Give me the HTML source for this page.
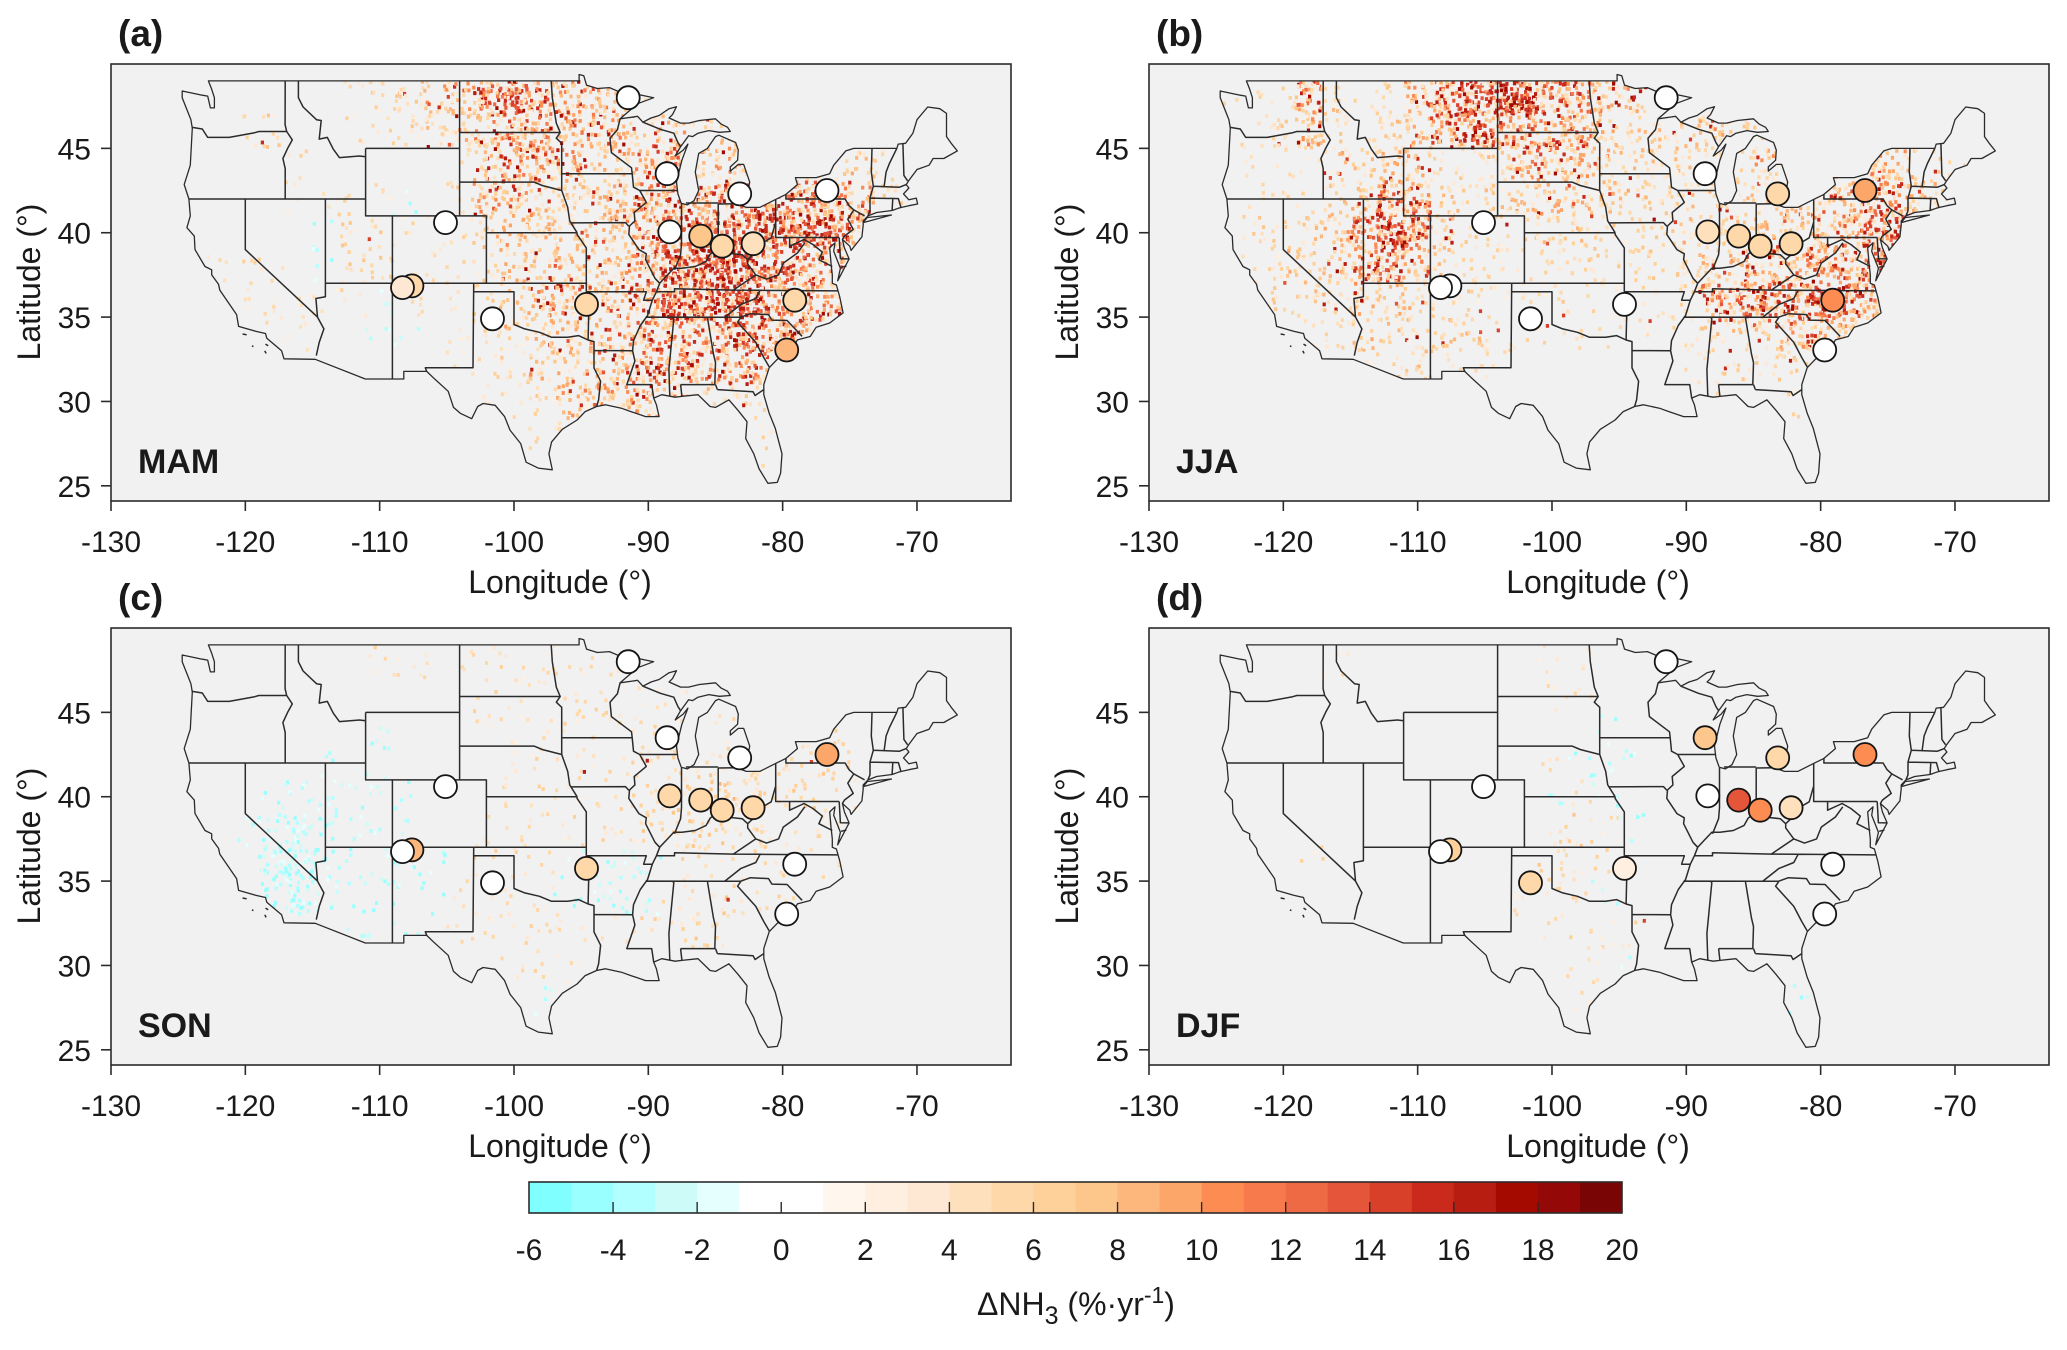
<!DOCTYPE html>
<html lang="en">
<head>
<meta charset="utf-8">
<title>Seasonal NH3 trends</title>
<style>
html,body{margin:0;padding:0;background:#fff;width:2067px;height:1350px;overflow:hidden}
svg{display:block;font-family:"Liberation Sans",Arial,sans-serif}
</style>
</head>
<body>
<svg id="figure" xmlns="http://www.w3.org/2000/svg" width="2067" height="1350" viewBox="0 0 2067 1350"></svg>
<script>
// ---- station data ----
const stationLons = [-91.5,-88.6,-83.2,-76.7,-105.1,-88.4,-86.1,-84.5,-82.2,-107.6,-108.3,-101.6,-94.6,-79.1,-79.7];
const stationLats = [48.0,43.5,42.3,42.5,40.6,40.05,39.8,39.2,39.35,36.85,36.75,34.9,35.75,36.0,33.05];
const mamStations = [0,0,0,0,0,0,7,5,4.5,5,3,0,5,5.5,8];
const jjaStations = [0,0,5,9.5,0,4,5,5,5,0,0,0,0,10.5,0];
const sonStations = [0,0,0,9.5,0,5,5,5,5,8,0,0,5,0,0];
const djfStations = [0,7,5,10.5,0,0,13,10.5,4.5,6,0,5,2.5,0,0];

// ---- gridded trend intensity per season: rows from 49N downward (2 deg), columns from 125W eastward (2 deg) ----
const mamCells = [
[0,0,0,0,0,0,1,2,3,4,5,7,8,6,5,5,4,1],
[0,0,1,2,0,0,1,1,2,3,4,5,6,6,5,5,5,4,4,3,3,1],
[0,0,0,0,1,0,0,0,0,0,1,4,6,6,5,4,4,5,6,3,5,5,0,1,2,3,1],
[0,0,0,0,1,1,1,1,-1,0,2,5,5,4,4,4,5,6,7,6,6,7,7,7,6,5,2,1],
[0,0,0,0,0,-1,2,2,1,1,1,3,4,4,4,4,5,6,7,8,8,8,8,8,8,5],
[0,1,1,1,0,-1,2,2,1,1,1,2,4,4,4,4,5,6,8,9,9,8,7,6,6,3],
[0,0,1,1,1,1,1,-1,1,1,1,2,3,5,5,5,5,6,9,9,9,8,6,6,6,4],
[0,0,0,1,1,0,0,-1,-1,0,1,2,3,4,4,4,5,6,6,6,7,7,7,6,3],
[0,0,0,0,0,0,0,0,0,0,1,1,2,4,4,4,5,6,6,6,6,6,3],
[0,0,0,0,0,0,0,0,0,0,0,1,1,2,4,5,5,5,5,3,3,2],
[0,0,0,0,0,0,0,0,0,0,0,0,0,1,2,1,0,0,0,0,0,1,1],
[0,0,0,0,0,0,0,0,0,0,0,0,0,0,0,0,0,0,0,0,0,1]
];
const jjaCells = [
[1,1,2,6,3,1,2,5,7,8,9,9,7,6,5,4,1],
[1,1,3,5,2,1,3,4,6,7,7,6,6,6,4,3,3,3,4,2,2],
[0,1,1,1,3,3,4,4,2,2,3,5,5,5,4,3,3,3,4,2,4,3,0,3,5,4,2,1],
[0,1,1,1,3,4,7,6,3,2,3,4,4,4,4,3,3,3,3,3,3,4,4,5,6,6,4,2],
[0,2,2,3,4,6,8,7,4,2,2,2,3,3,2,2,2,3,3,3,4,4,5,6,7,8,2],
[0,1,3,3,4,6,7,5,3,2,2,1,2,2,2,2,2,3,4,5,5,5,6,6,8,7],
[0,0,2,3,3,4,4,3,3,2,1,1,2,1,1,1,1,2,6,7,7,7,8,7,6,3],
[0,0,0,1,2,3,3,3,3,3,2,1,1,1,1,1,1,2,3,3,4,5,6,5,2],
[0,0,0,0,0,1,2,3,2,1,1,0,0,0,0,0,0,1,2,2,2,2,1],
[0,0,0,0,0,0,0,0,0,0,0,0,0,0,0,0,0,0,1,0,0,1],
[0,0,0,0,0,0,0,0,0,0,0,0,0,0,0,0,0,0,0,0,0,0],
[0,0,0,0,0,0,0,0,0,0,0,0,0,0,0,0,0,0,0,0,0,0]
];
const sonCells = [
[0,0,0,0,0,0,0,1,1,1,1,1,1,1,1,1,1],
[0,0,0,0,0,0,0,0,0,0,0,1,1,1,1,1,0,1,1],
[0,0,0,0,0,0,0,-1,0,0,0,1,1,1,1,1,1,1,1,0,1,1,0,1,1],
[0,0,0,0,0,-1,0,-1,0,0,0,0,1,1,1,1,1,2,2,2,2,2,2,2,2],
[0,0,0,-1,-2,-2,-1,-1,-1,0,0,0,1,1,1,1,1,2,3,3,3,3,2,2,1,1],
[0,0,-1,-3,-4,-2,-1,-1,-1,0,0,1,1,1,1,1,1,2,2,3,2,2,1,1,1],
[0,0,0,-4,-5,-3,-1,-1,-1,-1,0,1,1,1,-1,-1,-2,-1,1,1,1,1,1,1,1],
[0,0,0,-2,-4,-2,-1,-1,-1,-1,1,1,1,1,-1,-1,-2,-1,1,1,2,1,1],
[0,0,0,0,0,0,-1,-1,-1,0,1,1,1,1,1,1,1,1,1,2,1],
[0,0,0,0,0,0,0,0,0,0,0,0,1,1,1],
[0,0,0,0,0,0,0,0,0,0,0,0,0,-1,1],
[0,0,0,0,0,0,0,0,0,0,0,0,0,0,0]
];
const djfCells = [
[0,0,0,0,1,0,0,0,0,0,0,0,1,1],
[0,0,0,0,0,0,0,0,0,0,0,0,1,1],
[0,0,0,0,0,0,0,0,0,0,0,0,0,0,-1],
[0,0,0,0,0,0,0,0,0,0,0,0,1,-1,-1,-1],
[0,0,0,0,0,0,0,0,0,0,0,0,-1,1,-1],
[0,0,0,0,0,0,0,0,0,0,0,0,1,2,1,-1],
[0,0,0,1,0,0,0,0,0,0,0,0,2,1,1],
[0,0,0,0,0,0,0,0,0,0,0,1,1,1,-1],
[0,0,0,0,0,0,0,0,0,0,0,0,1,1,1,1],
[0,0,0,0,0,0,0,0,0,0,0,0,0,1,1,-1],
[0,0,0,0,0,0,0,0,0,0,0,0,0,1,1,0,0,0,0,0,0,-1],
[0,0,0,0,0,0,0,0,0,0,0,0,0,0,1]
];

// ---- axes and colour bar ----
const lonTicks = [-130,-120,-110,-100,-90,-80,-70];
const latTicks = [25,30,35,40,45];
const colorTicks = [-6,-4,-2,0,2,4,6,8,10,12,14,16,18,20];
const colorBins = ['#7fffff','#99ffff','#b2ffff','#ccfbf8','#e5ffff','#ffffff','#ffffff','#fff6ee','#ffefe0','#fee8d3','#fee0bd','#fed8a8','#fed19a','#fdc78c','#fdb67b','#fda66a','#fc8c52','#f67a4c','#ee6a45','#e4553a','#d9402a','#c92a1c','#b81d12','#a50a00','#940808','#7a0505'];
const seasonNames = ['MAM','JJA','SON','DJF'];
const panelLetters = ['(a)','(b)','(c)','(d)'];

// ---- geography (lon, lat) ----
const usOutline = [[-124.7,48.4],[-123.2,48.15],[-122.8,48.1],[-122.6,47.4],[-122.3,47.4],[-122.3,48.0],[-122.5,48.5],[-122.75,49.0],[-95.15,49.0],[-95.15,49.38],[-94.8,49.3],[-94.6,48.75],[-93.8,48.55],[-92.9,48.6],[-92.0,48.3],[-91.4,48.05],[-90.8,48.2],[-89.6,48.0],[-90.8,47.65],[-92.1,46.75],[-91.2,46.85],[-90.8,46.9],[-90.4,46.55],[-89.8,46.8],[-89.2,46.95],[-88.45,47.35],[-87.9,47.47],[-88.2,47.0],[-88.45,46.8],[-87.6,46.5],[-87.0,46.5],[-86.2,46.65],[-85.0,46.75],[-84.6,46.45],[-84.1,46.25],[-83.9,46.0],[-84.7,45.95],[-85.5,46.05],[-86.3,45.9],[-86.7,45.7],[-87.0,45.75],[-87.6,45.1],[-88.0,44.55],[-87.4,44.9],[-87.05,45.25],[-87.5,44.3],[-87.9,43.0],[-87.8,42.3],[-87.55,41.75],[-87.1,41.65],[-86.6,41.9],[-86.25,42.5],[-86.5,43.6],[-86.25,44.7],[-85.6,45.0],[-85.0,45.7],[-84.75,45.78],[-83.5,45.35],[-83.3,44.9],[-83.35,44.3],[-83.9,43.9],[-83.9,43.65],[-83.3,44.05],[-82.9,44.05],[-82.45,43.0],[-82.55,42.6],[-83.1,42.25],[-83.45,41.72],[-82.7,41.5],[-81.7,41.5],[-80.5,41.98],[-79.76,42.27],[-78.9,42.85],[-79.05,43.27],[-77.5,43.27],[-76.5,43.5],[-76.2,44.0],[-75.3,44.85],[-74.7,45.0],[-71.5,45.0],[-71.4,45.25],[-70.85,45.3],[-70.3,45.9],[-70.0,46.7],[-69.2,47.45],[-68.3,47.35],[-67.8,47.07],[-67.8,45.7],[-67.45,45.3],[-67.0,44.85],[-68.0,44.4],[-68.8,44.4],[-69.1,44.0],[-70.0,43.75],[-70.6,43.1],[-70.8,42.85],[-70.6,42.65],[-71.0,42.3],[-70.6,41.95],[-70.05,42.05],[-69.95,41.7],[-70.6,41.6],[-71.15,41.5],[-71.4,41.45],[-71.85,41.32],[-73.0,41.2],[-73.65,41.0],[-74.0,40.7],[-74.0,40.45],[-74.1,39.75],[-74.9,38.95],[-75.0,39.2],[-75.55,39.6],[-75.4,39.1],[-75.05,38.45],[-75.9,37.15],[-75.7,37.9],[-76.2,38.9],[-76.1,39.4],[-76.5,39.1],[-76.4,38.2],[-76.3,37.5],[-76.3,37.0],[-76.0,36.9],[-75.75,36.2],[-75.5,35.25],[-76.5,34.65],[-77.5,34.4],[-77.95,33.85],[-78.9,33.65],[-79.3,33.1],[-80.4,32.5],[-81.0,32.0],[-81.4,31.0],[-81.4,30.4],[-81.0,29.3],[-80.55,28.4],[-80.05,26.9],[-80.15,25.75],[-80.4,25.2],[-81.1,25.15],[-81.75,26.0],[-82.15,26.9],[-82.75,27.8],[-82.65,28.8],[-83.3,29.45],[-84.0,30.1],[-85.0,29.65],[-85.4,29.7],[-86.3,30.4],[-87.5,30.3],[-88.0,30.25],[-89.0,30.4],[-89.6,30.2],[-89.4,29.8],[-89.2,29.1],[-90.2,29.1],[-91.3,29.4],[-92.0,29.6],[-93.2,29.8],[-93.85,29.7],[-94.7,29.4],[-95.3,28.9],[-96.4,28.35],[-97.2,27.6],[-97.4,26.9],[-97.15,25.95],[-98.2,26.05],[-99.1,26.4],[-99.5,27.5],[-100.3,28.3],[-100.7,29.1],[-101.4,29.77],[-102.3,29.88],[-102.7,29.7],[-103.15,28.98],[-104.0,29.3],[-104.5,29.65],[-104.9,30.6],[-106.0,31.4],[-106.5,31.78],[-108.2,31.78],[-108.2,31.33],[-111.07,31.33],[-114.8,32.5],[-117.12,32.53],[-117.3,33.0],[-118.4,33.75],[-118.5,34.03],[-119.2,34.15],[-120.5,34.45],[-120.65,35.15],[-121.9,36.6],[-122.0,36.95],[-122.5,37.5],[-122.5,37.8],[-123.0,38.0],[-123.75,39.0],[-123.8,39.8],[-124.35,40.3],[-124.1,41.0],[-124.2,42.0],[-124.55,42.85],[-124.1,44.0],[-123.95,46.2],[-124.05,46.7],[-124.2,47.0],[-124.7,48.0],[-124.7,48.4]];
const longIsland = [[-74.0,40.6],[-71.9,41.05],[-73.7,40.9],[-74.0,40.6]];
const stateBorders = [
[[-124,46.25],[-123.2,46.15],[-122.8,45.65],[-121.2,45.65],[-119.3,45.93],[-119,46],[-116.92,46]],
[[-117.03,49],[-117.04,46.4],[-116.92,46],[-116.5,45.5],[-116.85,45],[-117.2,44.4],[-117.03,43.8],[-117.03,42]],
[[-124.2,42],[-111.05,42]],
[[-120,42],[-120,39],[-114.63,35]],
[[-114.63,35],[-114.75,36.1],[-114.04,36.2],[-114.04,42]],
[[-114.63,35],[-114.15,34.3],[-114.5,33.5],[-114.72,32.72]],
[[-114.04,37],[-94.62,37]],
[[-109.05,41],[-109.05,31.33]],
[[-111.05,42],[-111.05,41],[-102.05,41],[-102.05,37]],
[[-114.04,37],[-114.04,36.2]],
[[-111.05,45],[-104.05,45],[-104.05,41]],
[[-111.05,45],[-111.05,42]],
[[-116.05,49],[-116.05,48],[-115.7,47.45],[-114.7,46.7],[-114.35,46.65],[-114.5,45.55],[-113.9,45.65],[-113.45,44.95],[-113,44.45],[-111.5,44.55],[-111.05,44.5]],
[[-104.05,49],[-104.05,45]],
[[-104.05,45.94],[-96.56,45.94]],
[[-104.05,43],[-98.5,43],[-97.9,42.8],[-96.45,42.5]],
[[-102.05,40],[-95.3,40]],
[[-94.62,36.5],[-94.62,39.1],[-95.3,39.9],[-95.3,40]],
[[-103,37],[-103.05,32],[-106.6,32],[-106.5,31.78]],
[[-103,36.5],[-100,36.5],[-100,34.56],[-99.2,34.3],[-98.1,34.1],[-97.2,33.8],[-96,33.8],[-95.2,33.9],[-94.48,33.64]],
[[-94.62,36.5],[-94.43,35.4],[-94.48,33.64],[-94.04,33.55],[-94.04,31.99],[-93.55,31.2],[-93.7,30.1],[-93.85,29.7]],
[[-94.62,36.5],[-90.15,36.5],[-90.35,36],[-89.7,36]],
[[-94.04,33.02],[-91.17,33]],
[[-92.1,46.75],[-92.3,46.1],[-92.85,45.6],[-92.75,44.75],[-91.25,43.85],[-91.2,43.5],[-91.1,42.7],[-90.64,42.5],[-90.15,41.8],[-91.05,41.2],[-91,40.7],[-91.4,40.4],[-91.45,39.9],[-90.7,39],[-90.15,38.75],[-90.2,38.4],[-89.5,37.3],[-89.15,37],[-89.4,36.5],[-89.7,36],[-90.05,35.1],[-90.6,34.5],[-91.1,33.6],[-91.17,33],[-91,32.4],[-91.6,31],[-89.75,31],[-89.6,30.2]],
[[-90.2,35],[-84.32,34.99],[-83.1,35]],
[[-89.4,36.5],[-88.05,36.5],[-88.05,36.68],[-83.67,36.6],[-81.68,36.59],[-75.9,36.55]],
[[-81.68,36.59],[-82,36.1],[-83.1,35.75],[-84.3,35]],
[[-83.67,36.6],[-82,37.5],[-82.6,38.15],[-82.6,38.4]],
[[-89.15,37],[-88.1,37.9],[-87.5,37.9],[-86.5,38],[-85.7,38.3],[-85.4,38.73],[-84.8,39.1],[-84.2,38.8],[-83,38.7],[-82.6,38.4],[-81.8,39],[-81.7,39.3],[-80.85,39.7],[-80.52,40.64]],
[[-80.52,41.98],[-80.52,39.72],[-75.79,39.72]],
[[-84.8,41.7],[-83.45,41.72]],
[[-84.8,41.7],[-84.8,39.1]],
[[-87.2,41.76],[-84.8,41.76]],
[[-87.53,41.7],[-87.53,39.35],[-87.6,38.7],[-88.05,37.8]],
[[-90.64,42.5],[-87.8,42.5]],
[[-90.4,46.55],[-89.1,46.13],[-88.1,45.9],[-87.8,45.35],[-87.6,45.1]],
[[-96.45,43.5],[-91.2,43.5]],
[[-95.77,40.58],[-91.7,40.6],[-91.45,40.38]],
[[-96.45,42.5],[-96,41.5],[-95.85,40.7],[-95.3,40]],
[[-96.45,42.5],[-96.45,45.3],[-96.85,45.6],[-96.56,45.94],[-96.85,46.5],[-97.15,48],[-97.23,49]],
[[-79.76,42.27],[-79.76,42],[-75.35,42],[-75.05,41.6],[-74.7,41.35],[-73.9,41]],
[[-74.7,41.35],[-75.15,40.8],[-74.75,40.2],[-75.4,39.8],[-75.55,39.6]],
[[-75.79,39.72],[-75.7,38.46],[-75.05,38.45]],
[[-79.48,39.72],[-79.48,39.2],[-78.4,39.6],[-77.75,39.3],[-77.05,38.85],[-77.3,38.4],[-76.3,38]],
[[-82,37.5],[-81.2,37.25],[-80.3,37.5],[-79.95,38.2],[-78.9,38.8],[-78.35,39.4]],
[[-75.65,37.95],[-75.25,38.03]],
[[-73.35,45],[-73.4,43.6],[-73.25,42.75],[-73.5,42.05],[-73.5,41.3],[-73.65,41]],
[[-71.5,45],[-72.05,44.1],[-72.3,43.6],[-72.45,42.73]],
[[-73.25,42.75],[-71.3,42.7],[-70.8,42.85]],
[[-73.5,42.05],[-71.38,42.02],[-71.2,41.5]],
[[-71.8,42.02],[-71.85,41.32]],
[[-71.05,45.3],[-70.97,43.4],[-70.7,43.08]],
[[-88.2,35],[-88.1,34.9],[-88.47,31.9],[-88.4,30.3]],
[[-85.6,34.98],[-85.15,32.8],[-85,32.3],[-85.05,31]],
[[-87.6,31],[-85,31]],
[[-87.6,31],[-87.5,30.3]],
[[-84.86,30.7],[-82.2,30.57],[-82.05,30.35],[-81.4,30.7]],
[[-85,31],[-84.86,30.7]],
[[-83.1,35],[-83.35,34.7],[-82,33.5],[-81.4,32.6],[-81,32.05]],
[[-83.1,35],[-82.4,35.2],[-81.05,35.15],[-80.8,34.82],[-79.67,34.8],[-78.55,33.86]],
[[-120.2,34.0],[-119.9,33.95]],
[[-119.5,33.3],[-119.4,33.25]],
[[-118.5,33.4],[-118.3,33.3]],
[[-118.55,33.0],[-118.45,32.85]]
];

// ---- layout ----
const NS = 'http://www.w3.org/2000/svg';
const svg = document.getElementById('figure');
const panelW = 900, panelH = 437;
const lonMin = -130, lonMax = -63, latMin = 24.1, latMax = 50;
const cellSize = 2, gridWest = -125, gridNorth = 49;
const panelOrigins = [[111,64],[1149,64],[111,628],[1149,628]];
const cellSets = [mamCells,jjaCells,sonCells,djfCells];
const stationSets = [mamStations,jjaStations,sonStations,djfStations];
const inkColor = '#2b2b2b';

function xScale(x0,lon){return x0+(lon-lonMin)/(lonMax-lonMin)*panelW;}
function yScale(y0,lat){return y0+(latMax-lat)/(latMax-latMin)*panelH;}
function colorFor(v){
  const idx=Math.max(0,Math.min(colorBins.length-1,Math.floor(v+6)));
  return colorBins[idx];
}
function make(tag,attrs,parent){
  const el=document.createElementNS(NS,tag);
  for(const k in attrs){el.setAttribute(k,attrs[k]);}
  (parent||svg).appendChild(el);
  return el;
}
function addText(parent,str,x,y,size,anchor,weight){
  const t=make('text',{x:x,y:y,'font-size':size,'text-anchor':anchor||'middle','font-weight':weight||'normal',fill:'#1a1a1a'},parent);
  t.textContent=str;
  return t;
}
function linePath(x0,y0,pts){
  return pts.map((p,i)=>(i?'L':'M')+xScale(x0,p[0]).toFixed(1)+' '+yScale(y0,p[1]).toFixed(1)).join('');
}
// stable pseudo-scatter of specks inside their cell (texture placement only)
function scatter(a,b,c){
  const s=Math.sin(a*127.1+b*311.7+c*74.7)*43758.5453;
  return s-Math.floor(s);
}

seasonNames.forEach((season,p)=>{
  const x0=panelOrigins[p][0], y0=panelOrigins[p][1];
  const g=make('g',{},svg);
  
  

  const bg=make('rect',{x:x0,y:y0,width:panelW,height:panelH,fill:'#f1f1f1',stroke:inkColor,'stroke-width':1.6},g);
  
  

  const clip=make('clipPath',{id:'land-'+p},g);
  make('path',{d:linePath(x0,y0,usOutline)+'Z'},clip);

  const specks=make('g',{'clip-path':'url(#land-'+p+')'},g);
  
  
  cellSets[p].forEach((row,r)=>{
    row.forEach((v,c)=>{
      if(!v){return;}
      const mag=Math.abs(v);
      const count=Math.round(mag*mag*0.7+mag*3);
      const redShare=mag*mag/100*0.6;
      const lonW=gridWest+c*cellSize, latN=gridNorth-r*cellSize;
      for(let k=0;k<count;k++){
        const lon=lonW+scatter(r+p*31,c,k)*cellSize;
        const lat=latN-scatter(c+p*17,r,k+50)*cellSize;
        const pick=scatter(r,c+p*7,k+100);
        const shade=scatter(k,r+p,c+200);
        let val;
        if(v<0){val=-1.5-shade*3.5;}
        else if(pick<redShare){val=13.5+shade*4.5;}
        else{val=2.5+shade*(3+mag*1.2);}
        const s=make('rect',{x:(xScale(x0,lon)-1.6).toFixed(1),y:(yScale(y0,lat)-1.9).toFixed(1),width:3.2,height:3.8,fill:colorFor(val)},specks);
        
        
      }
    });
  });

  const outline=make('path',{d:linePath(x0,y0,usOutline)+'Z'+linePath(x0,y0,longIsland),fill:'none',stroke:inkColor,'stroke-width':1.3,'stroke-linejoin':'round'},g);
  
  
  const borders=make('path',{d:stateBorders.map(b=>linePath(x0,y0,b)).join(''),fill:'none',stroke:inkColor,'stroke-width':1.5,'stroke-linejoin':'round'},g);
  
  

  stationLons.forEach((lon,i)=>{
    const m=make('circle',{cx:xScale(x0,lon).toFixed(1),cy:yScale(y0,stationLats[i]).toFixed(1),r:11.5,fill:colorFor(stationSets[p][i]),stroke:'#151515','stroke-width':1.8},g);
    
    
  });

  lonTicks.forEach(t=>{
    const x=xScale(x0,t);
    const tk=make('line',{x1:x,x2:x,y1:y0+panelH,y2:y0+panelH+10,stroke:inkColor,'stroke-width':1.6},g);
    
    
    const lb=addText(g,String(t),x,y0+panelH+51,30);
    
    
  });
  latTicks.forEach(t=>{
    const y=yScale(y0,t);
    const tk=make('line',{x1:x0-10,x2:x0,y1:y,y2:y,stroke:inkColor,'stroke-width':1.6},g);
    
    
    const lb=addText(g,String(t),x0-20,y+11,30,'end');
    
    
  });

  const xt=addText(g,'Longitude (°)',x0+449,y0+529,32);
  
  
  const yt=addText(g,'Latitude (°)',0,0,32);
  yt.setAttribute('transform','translate('+(x0-71)+','+(y0+218)+') rotate(-90)');
  
  

  const letter=addText(g,panelLetters[p],x0+7,y0-18,37,'start','bold');
  
  
  const sn=addText(g,season,x0+27,y0+409,34,'start','bold');
  
  
});

// colour bar
const cbX=529, cbW=1093, cbY=1182, cbH=31, cbMin=-6, cbMax=20;
function cbScale(v){return cbX+(v-cbMin)/(cbMax-cbMin)*cbW;}
const cb=make('g',{},svg);


colorBins.forEach((col,i)=>{
  const r=make('rect',{x:cbScale(cbMin+i).toFixed(2),y:cbY,width:(cbScale(cbMin+i+1)-cbScale(cbMin+i)+0.4).toFixed(2),height:cbH,fill:col},cb);
  
  
});
const cbFrame=make('rect',{x:cbX,y:cbY,width:cbW,height:cbH,fill:'none',stroke:inkColor,'stroke-width':1.6},cb);


colorTicks.forEach(t=>{
  const x=cbScale(t);
  if(t>cbMin&&t<cbMax){
    const tk=make('line',{x1:x,x2:x,y1:cbY+20,y2:cbY+cbH,stroke:inkColor,'stroke-width':1.4},cb);
    
    
  }
  const lb=addText(cb,String(t),x,1260,30);
  
  
});
const cbTitle=make('text',{x:1076,y:1315,'font-size':32,'text-anchor':'middle',fill:'#1a1a1a'},cb);


cbTitle.appendChild(document.createTextNode('ΔNH'));
const sub=make('tspan',{dy:9,'font-size':25},cbTitle);
sub.textContent='3';
const mid=make('tspan',{dy:-9},cbTitle);
mid.textContent=' (%·yr';
const sup=make('tspan',{dy:-12,'font-size':23},cbTitle);
sup.textContent='-1';
const end=make('tspan',{dy:12},cbTitle);
end.textContent=')';
</script>
</body>
</html>
